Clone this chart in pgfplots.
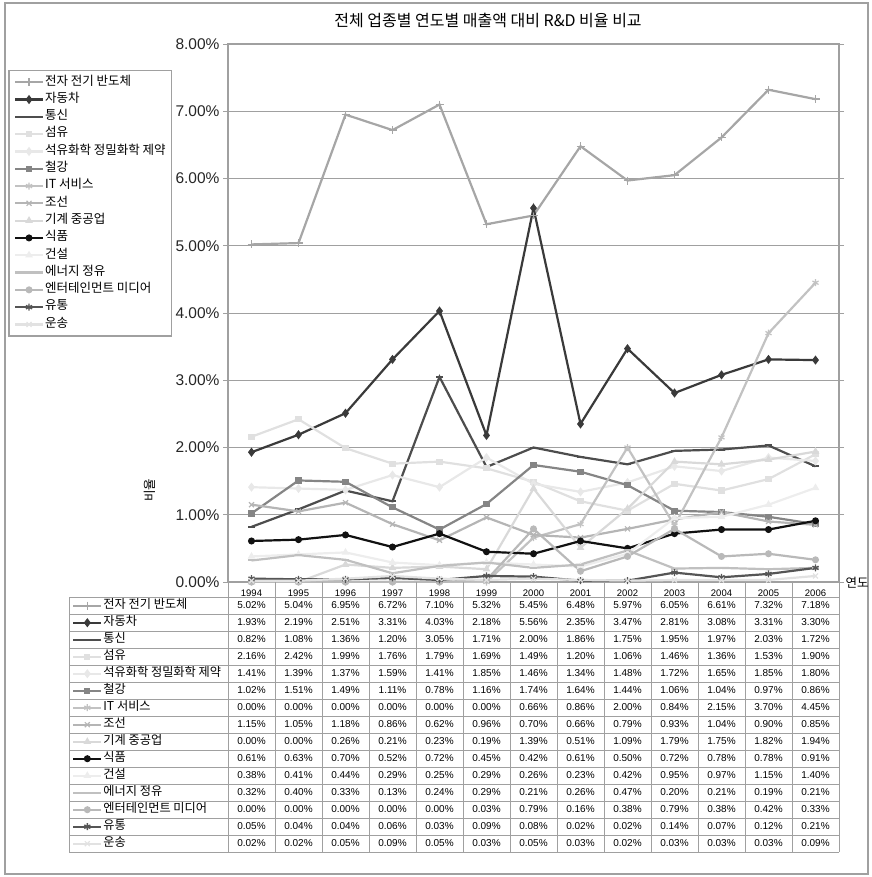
\documentclass[border=0pt]{standalone}
\usepackage{pgfplots}
\pgfplotsset{compat=1.18}
\usepackage{pgfplotstable}
\usepackage{fontspec}
\setmainfont{Liberation Sans}
\newfontfamily\kr{Noto Sans CJK KR}

\definecolor{gridc}{HTML}{A0A0A0}
\definecolor{c1}{HTML}{A6A6A6}
\definecolor{c2}{HTML}{3A3A3A}
\definecolor{c3}{HTML}{4D4D4D}
\definecolor{c4}{HTML}{E0E0E0}
\definecolor{c5}{HTML}{E8E8E8}
\definecolor{c6}{HTML}{858585}
\definecolor{c7}{HTML}{C2C2C2}
\definecolor{c8}{HTML}{B5B5B5}
\definecolor{c9}{HTML}{D9D9D9}
\definecolor{c10}{HTML}{111111}
\definecolor{c11}{HTML}{EDEDED}
\definecolor{c12}{HTML}{C0C0C0}
\definecolor{c13}{HTML}{B9B9B9}
\definecolor{c14}{HTML}{555555}
\definecolor{c15}{HTML}{E2E2E2}

\pgfplotstableread{
year s1 s2 s3 s4 s5 s6 s7 s8 s9 s10 s11 s12 s13 s14 s15
1994 5.02 1.93 0.82 2.16 1.41 1.02 0.00 1.15 0.00 0.61 0.38 0.32 0.00 0.05 0.02
1995 5.04 2.19 1.08 2.42 1.39 1.51 0.00 1.05 0.00 0.63 0.41 0.40 0.00 0.04 0.02
1996 6.95 2.51 1.36 1.99 1.37 1.49 0.00 1.18 0.26 0.70 0.44 0.33 0.00 0.04 0.05
1997 6.72 3.31 1.20 1.76 1.59 1.11 0.00 0.86 0.21 0.52 0.29 0.13 0.00 0.06 0.09
1998 7.10 4.03 3.05 1.79 1.41 0.78 0.00 0.62 0.23 0.72 0.25 0.24 0.00 0.03 0.05
1999 5.32 2.18 1.71 1.69 1.85 1.16 0.00 0.96 0.19 0.45 0.29 0.29 0.03 0.09 0.03
2000 5.45 5.56 2.00 1.49 1.46 1.74 0.66 0.70 1.39 0.42 0.26 0.21 0.79 0.08 0.05
2001 6.48 2.35 1.86 1.20 1.34 1.64 0.86 0.66 0.51 0.61 0.23 0.26 0.16 0.02 0.03
2002 5.97 3.47 1.75 1.06 1.48 1.44 2.00 0.79 1.09 0.50 0.42 0.47 0.38 0.02 0.02
2003 6.05 2.81 1.95 1.46 1.72 1.06 0.84 0.93 1.79 0.72 0.95 0.20 0.79 0.14 0.03
2004 6.61 3.08 1.97 1.36 1.65 1.04 2.15 1.04 1.75 0.78 0.97 0.21 0.38 0.07 0.03
2005 7.32 3.31 2.03 1.53 1.85 0.97 3.70 0.90 1.82 0.78 1.15 0.19 0.42 0.12 0.03
2006 7.18 3.30 1.72 1.90 1.80 0.86 4.45 0.85 1.94 0.91 1.40 0.21 0.33 0.21 0.09
}\data

\pgfplotsset{
  base/.style={line width=2.2pt, mark size=3pt, mark options={solid, line width=1pt}},
  st1/.style={base, color=c1, mark=+, mark size=4pt, mark options={line width=1.4pt}},
  st2/.style={base, color=c2, mark=diamond*, mark size=3.8pt},
  st3/.style={base, color=c3, mark=-, mark size=3.5pt, mark options={line width=2pt}},
  st4/.style={base, color=c4, mark=square*, mark size=2.6pt},
  st5/.style={base, color=c5, mark=diamond*, mark size=3.8pt},
  st6/.style={base, color=c6, mark=square*, mark size=2.6pt},
  st7/.style={base, color=c7, mark=asterisk, mark size=3.5pt, mark options={line width=1.2pt}},
  st8/.style={base, color=c8, mark=x, mark size=3.5pt, mark options={line width=1.2pt}},
  st9/.style={base, color=c9, mark=triangle*, mark size=3.5pt},
  st10/.style={base, color=c10, mark=*, mark size=3pt},
  st11/.style={base, color=c11, mark=triangle*, mark size=3.5pt},
  st12/.style={base, color=c12, mark=-, mark size=3.5pt, mark options={line width=2pt}},
  st13/.style={base, color=c13, mark=*, mark size=3pt},
  st14/.style={base, color=c14, mark=asterisk, mark size=3.5pt, mark options={line width=1.4pt}},
  st15/.style={base, color=c15, mark=x, mark size=3.5pt, mark options={line width=1.2pt}},
}

\begin{document}
\begin{tikzpicture}
\begin{scope}[x=1pt,y=-1pt]
\path[use as bounding box] (0,0) rectangle (870,877);
\draw[color=gridc, line width=1.5pt] (5,3) rectangle (868,874);
\end{scope}

\begin{axis}[
  at={(228pt,-582pt)}, anchor=south west,
  scale only axis, width=611pt, height=538pt,
  xmin=-0.5, xmax=12.5, ymin=0, ymax=8,
  xtick={0,...,12},
  xticklabels={1994,1995,1996,1997,1998,1999,2000,2001,2002,2003,2004,2005,2006},
  xtick style={draw=none},
  xticklabel style={font=\fontsize{9.5}{10}\selectfont, yshift=1pt},
  ytick={0,...,8},
  yticklabel={\pgfmathprintnumber[fixed,fixed zerofill,precision=2]{\tick}\%},
  /pgf/number format/assume math mode=true,
  yticklabel style={font=\fontsize{15.5}{16}\selectfont, color=black!85},
  ytick style={color=gridc, line width=1pt},
  tick align=outside, major tick length=5pt,
  ymajorgrids, grid style={color=gridc, line width=1pt},
  axis line style={color=gridc, line width=1.2pt},
  legend image code/.code={\draw[mark repeat=2,mark phase=2,#1] plot coordinates {(0pt,0pt) (14pt,0pt) (28pt,0pt)};},
  legend style={at={(axis description cs:-0.3595,0.9517)}, anchor=north west,
    draw=gridc, line width=1.2pt, fill=white, inner xsep=5pt, inner ysep=3pt,
    font=\kr\fontsize{12.5}{14}\selectfont, row sep=0pt,
    nodes={inner sep=1pt, text height=10.5pt, text depth=4.8pt}},
  legend cell align=left,
]
\addplot[st1] table[x expr=\coordindex, y=s1]{\data};
\addplot[st2] table[x expr=\coordindex, y=s2]{\data};
\addplot[st3] table[x expr=\coordindex, y=s3]{\data};
\addplot[st4] table[x expr=\coordindex, y=s4]{\data};
\addplot[st5] table[x expr=\coordindex, y=s5]{\data};
\addplot[st6] table[x expr=\coordindex, y=s6]{\data};
\addplot[st7] table[x expr=\coordindex, y=s7]{\data};
\addplot[st8] table[x expr=\coordindex, y=s8]{\data};
\addplot[st9] table[x expr=\coordindex, y=s9]{\data};
\addplot[st10] table[x expr=\coordindex, y=s10]{\data};
\addplot[st11] table[x expr=\coordindex, y=s11]{\data};
\addplot[st12] table[x expr=\coordindex, y=s12]{\data};
\addplot[st13] table[x expr=\coordindex, y=s13]{\data};
\addplot[st14] table[x expr=\coordindex, y=s14]{\data};
\addplot[st15] table[x expr=\coordindex, y=s15]{\data};
\legend{전자 전기 반도체,자동차,통신,섬유,석유화학 정밀화학 제약,철강,IT 서비스,조선,기계 중공업,식품,건설,에너지 정유,엔터테인먼트 미디어,유통,운송}
\end{axis}

\begin{axis}[
  at={(228pt,-582pt)}, anchor=south west,
  scale only axis, width=611pt, height=538pt,
  xmin=-0.5, xmax=12.5, ymin=0, ymax=8,
  hide axis,
  legend image code/.code={\draw[mark repeat=2,mark phase=2,#1] plot coordinates {(0pt,0pt) (14pt,0pt) (28pt,0pt)};},
  legend style={at={(axis description cs:-0.2602,-0.02788)}, anchor=north west,
    draw=none, fill=none, inner xsep=3pt, inner ysep=0pt,
    font=\kr\fontsize{12.2}{14}\selectfont, row sep=0pt,
    nodes={inner sep=1pt, text height=10.2pt, text depth=4.8pt}},
  legend cell align=left,
]
\addlegendimage{st1}\addlegendentry{전자 전기 반도체}
\addlegendimage{st2}\addlegendentry{자동차}
\addlegendimage{st3}\addlegendentry{통신}
\addlegendimage{st4}\addlegendentry{섬유}
\addlegendimage{st5}\addlegendentry{석유화학 정밀화학 제약}
\addlegendimage{st6}\addlegendentry{철강}
\addlegendimage{st7}\addlegendentry{IT 서비스}
\addlegendimage{st8}\addlegendentry{조선}
\addlegendimage{st9}\addlegendentry{기계 중공업}
\addlegendimage{st10}\addlegendentry{식품}
\addlegendimage{st11}\addlegendentry{건설}
\addlegendimage{st12}\addlegendentry{에너지 정유}
\addlegendimage{st13}\addlegendentry{엔터테인먼트 미디어}
\addlegendimage{st14}\addlegendentry{유통}
\addlegendimage{st15}\addlegendentry{운송}
\end{axis}

\begin{scope}[x=1pt,y=-1pt]
% table grid
\foreach \k in {0,...,15}{
  \draw[color=gridc, line width=1pt] (69,{597+17*\k}) -- (839,{597+17*\k});
}
\draw[color=gridc, line width=1pt] (69,597) -- (69,852);
\foreach \i in {0,...,13}{
  \draw[color=gridc, line width=1pt] ({228+47*\i},582) -- ({228+47*\i},852);
}
% table values
\foreach \r in {0,...,12}{
  \foreach \s in {1,...,15}{
    \pgfplotstablegetelem{\r}{s\s}\of\data
    \node[font=\fontsize{10}{12}\selectfont, inner sep=0pt] at ({228+47*\r+23.5},{597+17*\s-8.5})
      {\pgfmathprintnumber[fixed,fixed zerofill,precision=2,assume math mode=true]{\pgfplotsretval}\%};
  }
}
\node[font=\kr\fontsize{16}{18}\selectfont] at (488,20) {전체 업종별 연도별 매출액 대비 R\&D 비율 비교};
\node[font=\kr\fontsize{12.5}{14}\selectfont, rotate=90] at (150,490) {비율};
\node[font=\kr\fontsize{12.5}{14}\selectfont] at (857,583) {연도};
\end{scope}
\end{tikzpicture}
\end{document}
